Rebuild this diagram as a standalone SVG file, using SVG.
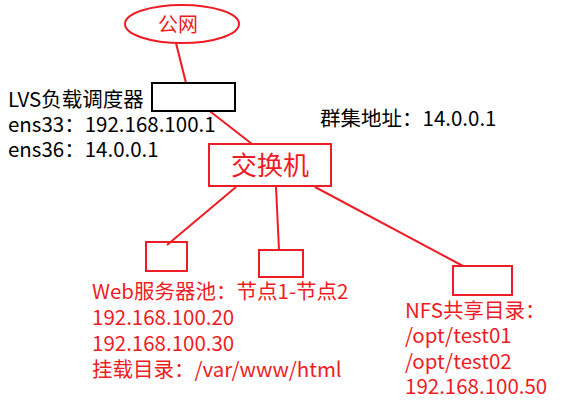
<svg xmlns="http://www.w3.org/2000/svg" width="577" height="404" viewBox="0 0 577 404">
<style>
.t{font-family:"Noto Sans CJK SC","Microsoft YaHei",sans-serif;font-size:20.5px}
.k{fill:#000}
.r{fill:#ee1c25}
.rs{fill:none;stroke:#ee1c25;stroke-width:2}
.ks{fill:#fff;stroke:#000;stroke-width:2}
</style>
<rect width="577" height="404" fill="#fff"/>
<g id="connectors">
<line class="rs" x1="176" y1="43" x2="186" y2="83"/>
<line class="rs" x1="207" y1="109" x2="252" y2="144"/>
<line class="rs" x1="236" y1="187" x2="167" y2="245"/>
<line class="rs" x1="276" y1="187" x2="279" y2="250"/>
<line class="rs" x1="315" y1="187" x2="463" y2="266"/>
</g>
<g id="internet">
<ellipse class="rs" cx="182" cy="24" rx="57" ry="19"/>
<text class="t r" x="178" y="32" text-anchor="middle" style="font-size:20px">公网</text>
</g>
<g id="lvs">
<rect class="ks" x="152" y="83" width="83" height="28"/>
<text class="t k" x="8" y="107">LVS负载调度器</text>
<text class="t k" x="8" y="132">ens33：192.168.100.1</text>
<text class="t k" x="8" y="157">ens36：14.0.0.1</text>
</g>
<g id="cluster">
<text class="t k" x="320" y="126">群集地址：14.0.0.1</text>
</g>
<g id="switch">
<rect class="rs" x="209" y="144" width="122" height="42"/>
<text class="t r" x="270" y="175" text-anchor="middle" style="font-size:26px">交换机</text>
</g>
<g id="web1">
<rect class="rs" x="146" y="242" width="41" height="29"/>
</g>
<g id="web2">
<rect class="rs" x="259" y="250" width="44" height="27"/>
</g>
<g id="webtext">
<text class="t r" x="92" y="299">Web服务器池：节点1-节点2</text>
<text class="t r" x="92" y="325">192.168.100.20</text>
<text class="t r" x="92" y="351">192.168.100.30</text>
<text class="t r" x="92" y="377">挂载目录：/var/www/html</text>
</g>
<g id="nfs">
<rect class="rs" x="453" y="266" width="59" height="29"/>
<text class="t r" x="405" y="318">NFS共享目录：</text>
<text class="t r" x="405" y="343">/opt/test01</text>
<text class="t r" x="405" y="369">/opt/test02</text>
<text class="t r" x="405" y="394">192.168.100.50</text>
</g>
</svg>
